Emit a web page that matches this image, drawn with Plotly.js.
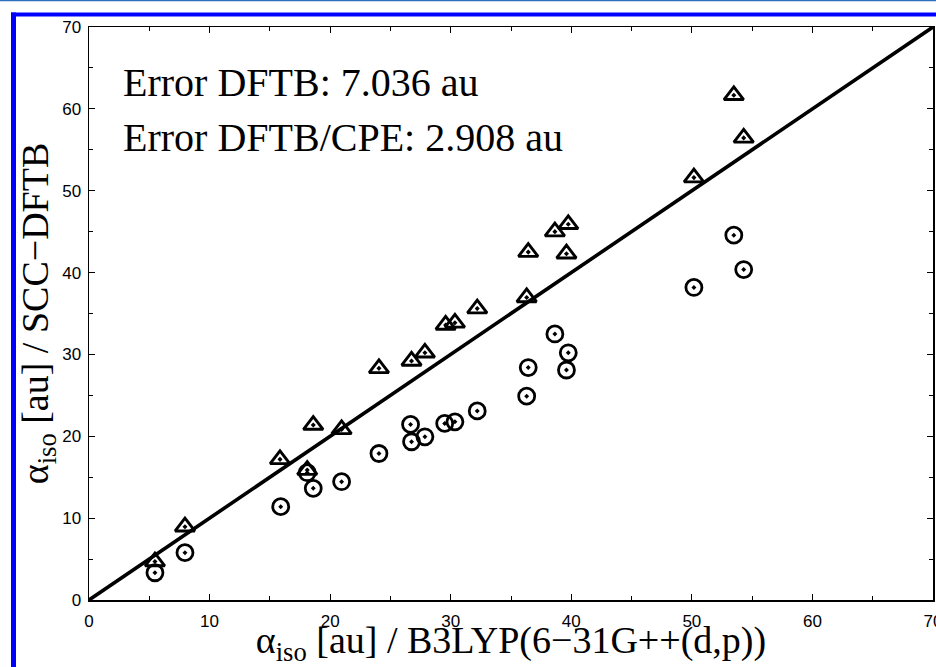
<!DOCTYPE html>
<html>
<head>
<meta charset="utf-8">
<script src="https://cdn.plot.ly/plotly-3.0.1.min.js"></script>
<style>html,body{margin:0;padding:0;background:#fff;}#chart{width:936px;height:667px;}</style>
</head>
<body>
<div id="chart"></div>
<script>
// B3LYP reference polarizabilities (x) and SCC-DFTB values (y)
const dftbX = [5.47, 7.96, 15.84, 18.1, 18.6, 20.95, 24.05, 26.75, 27.86, 29.58, 30.35, 32.2, 36.3, 36.43, 38.64, 39.6, 39.75, 50.17, 53.48, 54.3];
const dftbY = [4.7, 8.95, 17.18, 15.87, 21.37, 20.84, 28.3, 29.2, 30.2, 33.6, 33.86, 35.6, 36.96, 42.5, 45.0, 42.3, 45.9, 51.6, 61.66, 56.45];

const cpeX = [5.47, 7.96, 15.9, 18.1, 18.6, 20.95, 24.05, 26.67, 26.75, 27.86, 29.5, 30.35, 32.2, 36.3, 36.43, 38.64, 39.6, 39.75, 50.17, 53.48, 54.3];
const cpeY = [3.33, 5.78, 11.4, 15.55, 13.64, 14.45, 17.9, 21.45, 19.33, 19.94, 21.57, 21.77, 23.1, 24.9, 28.4, 32.5, 28.1, 30.2, 38.18, 44.57, 40.37];

const diagX = [0, 70];
const diagY = [0, 70];

const tickVals = [0, 10, 20, 30, 40, 50, 60, 70];
const tickText = ['0', '10', '20', '30', '40', '50', '60', '70'];

const errorLabels = ['Error DFTB: 7.036 au', 'Error DFTB/CPE: 2.908 au'];

const serif = 'Liberation Serif, Times New Roman, serif';
const sans = 'Liberation Sans, Arial, Helvetica, sans-serif';

const traces = [
  {x: diagX, y: diagY, mode: 'lines', line: {color: '#000', width: 3.6}, hoverinfo: 'skip', showlegend: false},
  {x: dftbX, y: dftbY, mode: 'markers', name: 'DFTB',
   marker: {symbol: 'triangle-up-open-dot', size: 17, color: '#000', line: {color: '#000', width: 2.9}}},
  {x: cpeX, y: cpeY, mode: 'markers', name: 'DFTB/CPE',
   marker: {symbol: 'circle-open-dot', size: 16, color: '#000', line: {color: '#000', width: 2.8}}}
];

function axis(titleText, standoff, labelOff) {
  return {
    range: [0, 70], autorange: false,
    tickmode: 'array', tickvals: tickVals, ticktext: tickText,
    ticks: 'inside', ticklen: 6, tickwidth: 1.2, tickcolor: '#000',
    minor: {ticks: 'inside', ticklen: 4, tickwidth: 1, tickcolor: '#000', dtick: 5, tick0: 0},
    showline: true, linecolor: '#000', linewidth: 1.5, mirror: 'ticks',
    showgrid: false, zeroline: false,
    ticklabeloverflow: 'allow', ticklabelstandoff: labelOff,
    tickfont: {family: sans, size: 17, color: '#000'},
    title: {text: titleText, font: {family: serif, size: 38, color: '#000'}, standoff: standoff},
    automargin: false
  };
}

// blue frame positions in paper coordinates (plot area: x 89..933 px, y 27..600 px)
const px = p => (p - 89) / 844;
const py = p => (600 - p) / 573;

const layout = {
  width: 936, height: 667,
  margin: {l: 89, r: 3, t: 27, b: 67, pad: 0},
  paper_bgcolor: '#fff', plot_bgcolor: '#fff',
  showlegend: false,
  xaxis: axis('α<sub>iso</sub> [au] / B3LYP(6−31G++(d,p))', 0, 5),
  yaxis: axis('α<sub>iso</sub> [au] / SCC−DFTB', 2, 3),
  annotations: errorLabels.map((t, i) => ({
    text: t, xref: 'paper', yref: 'paper', x: px(121), y: py(i === 0 ? 83 : 137),
    xanchor: 'left', yanchor: 'middle', showarrow: false,
    font: {family: serif, size: 40, color: '#000'}
  })),
  shapes: [
    {type: 'rect', xref: 'paper', yref: 'paper', x0: px(0), x1: px(936), y0: py(1.2), y1: py(0), fillcolor: '#2d6fbf', line: {width: 0}, layer: 'above'},
    {type: 'rect', xref: 'paper', yref: 'paper', x0: px(11), x1: px(936), y0: py(16.6), y1: py(12.4), fillcolor: '#0000ff', line: {width: 0}, layer: 'above'},
    {type: 'rect', xref: 'paper', yref: 'paper', x0: px(11), x1: px(16), y0: py(667), y1: py(12.4), fillcolor: '#0000ff', line: {width: 0}, layer: 'above'}
  ]
};

Plotly.newPlot('chart', traces, layout, {staticPlot: true, displayModeBar: false});
</script>
</body>
</html>
